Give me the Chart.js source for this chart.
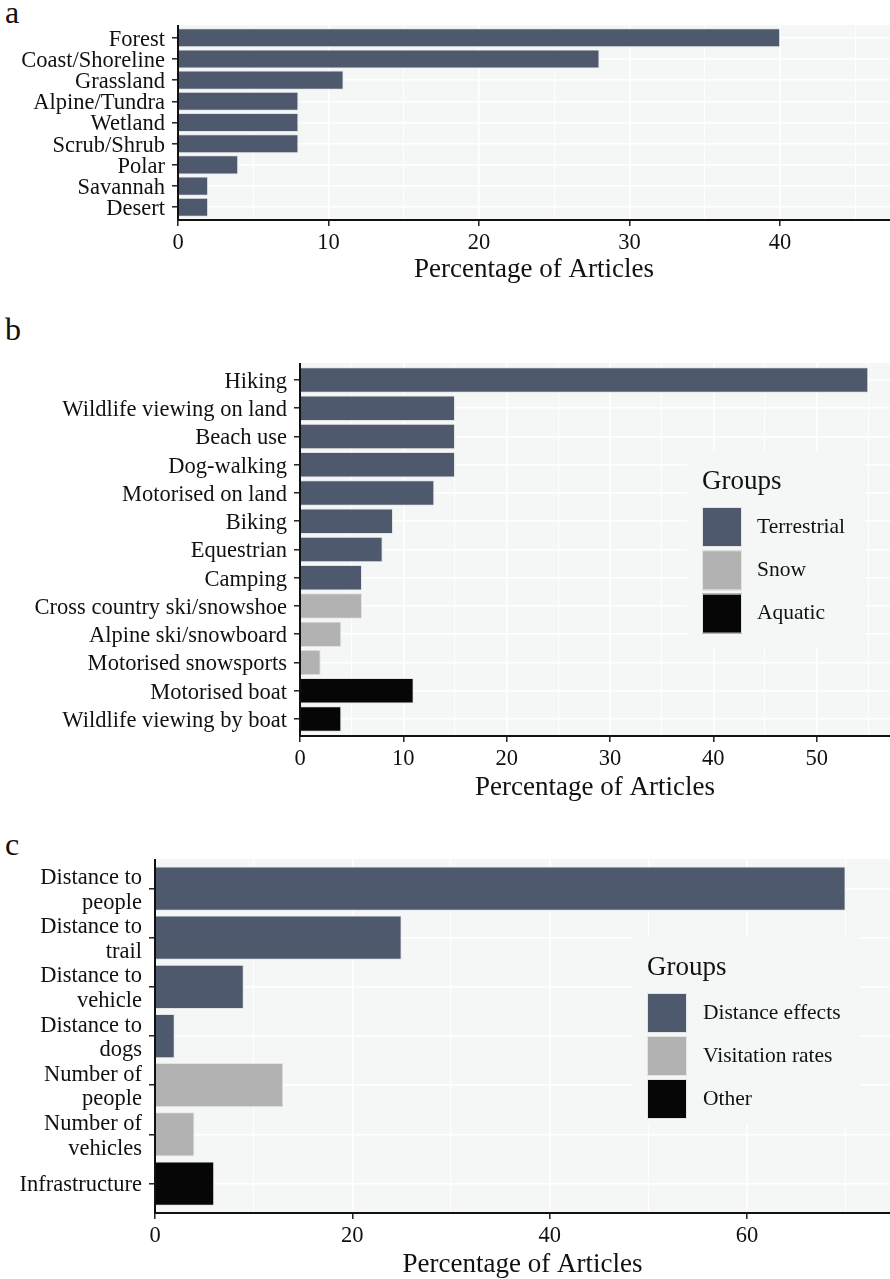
<!DOCTYPE html>
<html>
<head>
<meta charset="utf-8">
<script src="https://cdn.jsdelivr.net/npm/chart.js@4.4.0/dist/chart.umd.min.js"></script>
<style>
  body { margin: 0; background: #fff; width: 890px; height: 1279px; position: relative; overflow: hidden; font-family: "Liberation Serif", serif; }
  canvas { position: absolute; left: 0; }
  .tag { position: absolute; left: 5px; font-size: 32px; line-height: 1; color: #111; }
</style>
</head>
<body>
<div class="tag" style="top:-4px">a</div>
<div class="tag" style="top:313px">b</div>
<div class="tag" style="top:828px">c</div>
<canvas id="chartA" width="890" height="295" style="top:0"></canvas>
<canvas id="chartB" width="890" height="520" style="top:290px"></canvas>
<canvas id="chartC" width="890" height="469" style="top:810px"></canvas>
<script>
// panel a - habitats
const habitats = ["Forest", "Coast/Shoreline", "Grassland", "Alpine/Tundra", "Wetland",
    "Scrub/Shrub", "Polar", "Savannah", "Desert"];
const habitatPct = [40, 28, 11, 8, 8, 8, 4, 2, 2];
const habitatTicks = [0, 10, 20, 30, 40];

// panel b - activities
const activities = ["Hiking", "Wildlife viewing on land", "Beach use", "Dog-walking",
    "Motorised on land", "Biking", "Equestrian", "Camping", "Cross country ski/snowshoe",
    "Alpine ski/snowboard", "Motorised snowsports", "Motorised boat", "Wildlife viewing by boat"];
const activityPct = [55, 15, 15, 15, 13, 9, 8, 6, 6, 4, 2, 11, 4];
const activityGroup = ["Terrestrial", "Terrestrial", "Terrestrial", "Terrestrial", "Terrestrial",
    "Terrestrial", "Terrestrial", "Terrestrial", "Snow", "Snow", "Snow", "Aquatic", "Aquatic"];
const activityGroups = ["Terrestrial", "Snow", "Aquatic"];
const activityTicks = [0, 10, 20, 30, 40, 50];

// panel c - measures
const measures = ["Distance to\npeople", "Distance to\ntrail", "Distance to\nvehicle",
    "Distance to\ndogs", "Number of\npeople", "Number of\nvehicles", "Infrastructure"];
const measurePct = [70, 25, 9, 2, 13, 4, 6];
const measureGroup = ["Distance effects", "Distance effects", "Distance effects", "Distance effects",
    "Visitation rates", "Visitation rates", "Other"];
const measureGroups = ["Distance effects", "Visitation rates", "Other"];
const measureTicks = [0, 20, 40, 60];

const groupColours = ["#4f596e", "#b1b2b1", "#060606"];
const PANEL = "#f5f7f6";
const EDGE = "#e3e5e5";
const INK = "#111";
const FONT = "'Liberation Serif', 'Times New Roman', serif";

Chart.defaults.font.family = FONT;
Chart.defaults.color = INK;

// grey panel behind the grid, black axis lines on top of the bars
const panelBg = {
    id: "panelBg",
    beforeDraw(chart) {
        const { ctx, chartArea: a } = chart;
        ctx.save();
        ctx.fillStyle = PANEL;
        ctx.fillRect(a.left, a.top, a.right - a.left, a.bottom - a.top);
        ctx.restore();
    },
    afterDatasetsDraw(chart) {
        const { ctx, chartArea: a } = chart;
        ctx.save();
        ctx.strokeStyle = INK;
        ctx.lineWidth = 2;
        ctx.beginPath();
        ctx.moveTo(a.left, a.top);
        ctx.lineTo(a.left, a.bottom + 1);
        ctx.moveTo(a.left - 1, a.bottom);
        ctx.lineTo(a.right, a.bottom);
        ctx.stroke();
        ctx.restore();
    }
};

// ggplot style legend inside the panel
const groupLegend = {
    id: "groupLegend",
    afterDraw(chart, args, o) {
        if (!o || !o.names) return;
        const ctx = chart.ctx;
        ctx.save();
        ctx.fillStyle = PANEL;
        ctx.fillRect(o.box[0], o.box[1], o.box[2] - o.box[0], o.box[3] - o.box[1]);
        ctx.fillStyle = INK;
        ctx.textAlign = "left";
        ctx.textBaseline = "alphabetic";
        ctx.font = "27px " + FONT;
        ctx.fillText(o.title, o.x, o.titleY);
        o.names.forEach((name, i) => {
            const y = o.keyTop + i * o.keyStep;
            ctx.fillStyle = groupColours[i];
            ctx.fillRect(o.x, y, 40, 40);
            ctx.strokeStyle = EDGE;
            ctx.lineWidth = 1;
            ctx.strokeRect(o.x + 0.5, y + 0.5, 39, 39);
            ctx.fillStyle = INK;
            ctx.font = "21.5px " + FONT;
            ctx.textBaseline = "middle";
            ctx.fillText(name, o.labelX, y + 20);
        });
        ctx.restore();
    }
};

function makePanel(id, cats, values, colours, majors, xMax, L) {
    const step = majors[1] - majors[0];
    const xTicks = [];
    majors.forEach(v => {
        xTicks.push(v);
        if (v + step / 2 <= xMax) xTicks.push(v + step / 2);
    });

    return new Chart(document.getElementById(id), {
        type: "bar",
        data: {
            datasets: [{
                data: values.map((v, i) => ({ x: v, y: i })),
                backgroundColor: colours,
                borderColor: EDGE,
                borderWidth: 1,
                barPercentage: 0.9,
                categoryPercentage: 1
            }]
        },
        options: {
            indexAxis: "y",
            responsive: false,
            animation: false,
            devicePixelRatio: 1,
            layout: { padding: { top: L.top, left: 0, right: 0, bottom: 0 } },
            plugins: {
                legend: { display: false },
                tooltip: { enabled: false },
                groupLegend: L.legend || {}
            },
            scales: {
                x: {
                    type: "linear",
                    min: 0,
                    max: xMax,
                    offset: false,
                    afterFit: s => { s.height = L.height - L.bottom; },
                    afterBuildTicks: s => { s.ticks = xTicks.map(v => ({ value: v })); },
                    ticks: {
                        autoSkip: false,
                        maxRotation: 0,
                        padding: 4,
                        color: INK,
                        font: { size: 22.5 },
                        callback: v => majors.includes(v) ? String(v) : ""
                    },
                    grid: {
                        offset: false,
                        color: c => (c.tick && c.tick.value === 0) ? "rgba(0,0,0,0)" : "#ffffff",
                        lineWidth: c => (c.tick && majors.includes(c.tick.value)) ? 1.6 : 0.8,
                        tickColor: c => (c.tick && majors.includes(c.tick.value)) ? INK : "rgba(0,0,0,0)",
                        tickLength: 6,
                        tickWidth: 1.4
                    },
                    border: { display: false },
                    title: {
                        display: true,
                        text: "Percentage of Articles",
                        color: INK,
                        font: { size: 27, lineHeight: 1 },
                        padding: { top: 0, bottom: L.titlePad }
                    }
                },
                y: {
                    type: "linear",
                    reverse: true,
                    offset: false,
                    min: -0.6,
                    max: cats.length - 0.4,
                    afterFit: s => { s.width = L.left; },
                    afterBuildTicks: s => { s.ticks = cats.map((c, i) => ({ value: i })); },
                    ticks: {
                        autoSkip: false,
                        padding: 7,
                        labelOffset: 2,
                        color: INK,
                        font: { size: 22.5, lineHeight: 1.09 },
                        callback: v => cats[v].split("\n")
                    },
                    grid: {
                        offset: false,
                        color: "#ffffff",
                        lineWidth: 1.6,
                        tickColor: INK,
                        tickLength: 6,
                        tickWidth: 1.4
                    },
                    border: { display: false }
                }
            }
        },
        plugins: [panelBg, groupLegend]
    });
}

makePanel("chartA", habitats, habitatPct, habitatPct.map(() => groupColours[0]),
    habitatTicks, 47.3, { left: 178, top: 25, bottom: 220, height: 295, titlePad: 12 });

makePanel("chartB", activities, activityPct,
    activityGroup.map(g => groupColours[activityGroups.indexOf(g)]),
    activityTicks, 57.1,
    { left: 300, top: 73, bottom: 446, height: 520, titlePad: 9,
      legend: { names: activityGroups, title: "Groups", box: [687, 162, 865, 358],
                x: 702, titleY: 199, keyTop: 217, keyStep: 43.3, labelX: 757 } });

makePanel("chartC", measures, measurePct,
    measureGroup.map(g => groupColours[measureGroups.indexOf(g)]),
    measureTicks, 74.5,
    { left: 155, top: 49, bottom: 403, height: 469, titlePad: 0.5,
      legend: { names: measureGroups, title: "Groups", box: [632, 127, 860, 315],
                x: 647, titleY: 165, keyTop: 183, keyStep: 43, labelX: 703 } });
</script>
</body>
</html>
